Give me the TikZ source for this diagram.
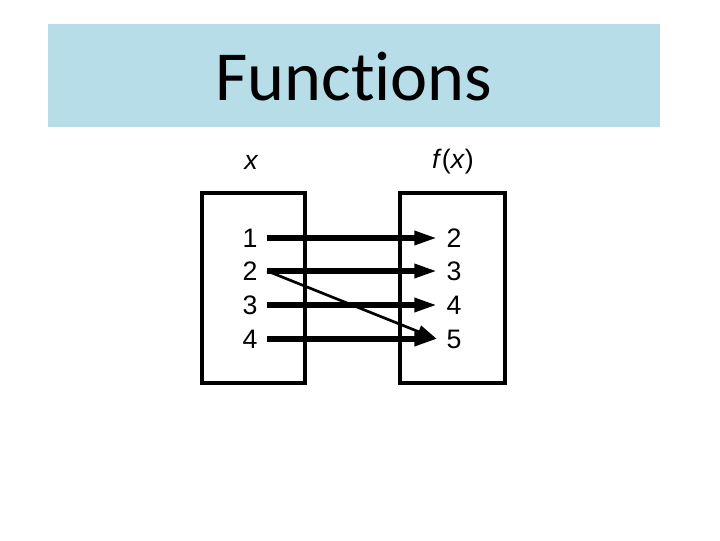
\documentclass[tikz,border=0pt]{standalone}
\usepackage{fontspec}
\setmainfont{Liberation Sans}
\newfontfamily\titlefont[RawFeature={-liga;-clig;-dlig;-calt}]{Carlito}
\usetikzlibrary{arrows.meta}
\definecolor{bandblue}{RGB}{183,221,232}

\begin{document}
\begin{tikzpicture}[x=0.025cm,y=-0.025cm,font=\fontsize{19}{22}\selectfont,
    num/.style={inner xsep=6.7pt,inner ysep=2pt},
    setbox/.style={draw,line width=2.4pt},
    maparrow/.style={line width=3.6pt,-{Triangle[length=16pt,width=9.5pt]}},
    thinarrow/.style={line width=1.9pt,-{Triangle[length=14pt,width=9pt]}}]
  \useasboundingbox (0,0) rectangle (720,540);
  % titulek
  \fill[bandblue] (48,24) rectangle (660,127);
  \node (title) at (354,77) {\titlefont\fontsize{50}{60}\selectfont Funct\kern0pt ions};
  % mnoziny
  \draw[setbox] (202,193) rectangle (305,383);
  \draw[setbox] (400,193) rectangle (505,383);
  \node (xlab) at (251,162) {\itshape x};
  \node (flab) at (453,162) {\itshape f\/\upshape(\itshape x\/\upshape)};
  % prvky
  \node[num] (l1) at (250,238) {1}; \node[num] (l2) at (250,271) {2};
  \node[num] (l3) at (250,305) {3}; \node[num] (l4) at (250,339) {4};
  \node[num] (r2) at (454,238) {2}; \node[num] (r3) at (454,271) {3};
  \node[num] (r4) at (454,305) {4}; \node[num] (r5) at (454,339) {5};
  % zobrazeni
  \draw[maparrow] (l1.east) -- (r2.west);
  \draw[maparrow] (l2.east) -- (r3.west);
  \draw[maparrow] (l3.east) -- (r4.west);
  \draw[maparrow] (l4.east) -- (r5.west);
  \draw[thinarrow] (l2.east) -- (r5.west);
\end{tikzpicture}
\end{document}
